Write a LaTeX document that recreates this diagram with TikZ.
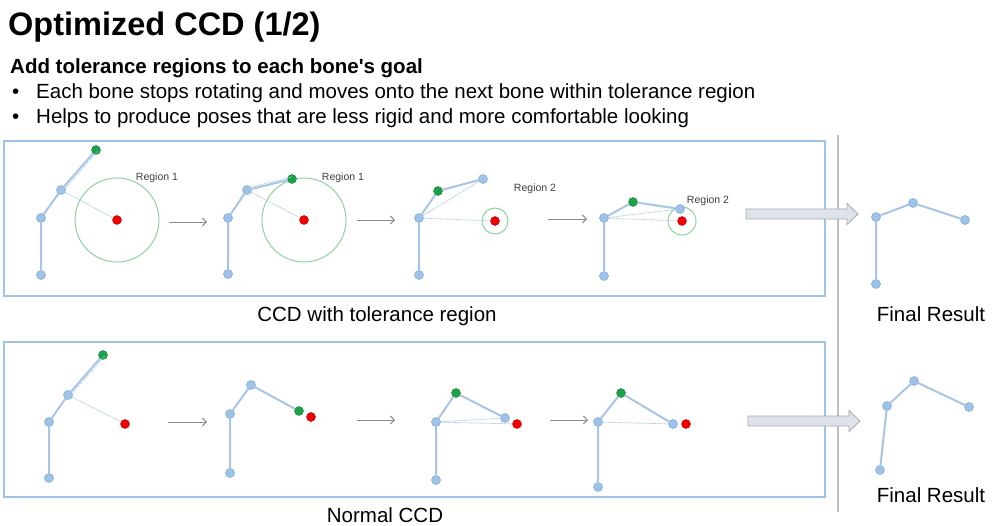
\documentclass[tikz,border=0pt]{standalone}
\usepackage{fontspec}
\setmainfont{Liberation Sans}
\usetikzlibrary{arrows.meta,calc}
\definecolor{bonec}{HTML}{A9C5E6}
\definecolor{jointc}{HTML}{9DC3E6}
\definecolor{jointd}{HTML}{7FA7D6}
\definecolor{effc}{HTML}{1AA34A}
\definecolor{tgtc}{HTML}{F00000}
\definecolor{regc}{HTML}{8ED29F}
\definecolor{boxc}{HTML}{9DC3E6}
\definecolor{arrc}{HTML}{8C8C8C}
\definecolor{fatfill}{HTML}{DEE3EB}
\definecolor{fatdraw}{HTML}{A6A9AE}
\definecolor{sepc}{HTML}{BFBFBF}
\definecolor{labc}{HTML}{404040}
\newcommand{\straightq}{\XeTeXglyph\XeTeXcharglyph"0027\relax}
\tikzset{
  bone/.style={draw=bonec,line width=2pt},
  guide/.style={draw=bonec,line width=0.8pt,dash pattern=on 1pt off 0.8pt},
  joint/.style={circle,fill=jointc,draw=jointd,line width=0.5pt,inner sep=0pt,minimum size=9pt},
  eff/.style={circle,fill=effc,draw=effc!80!black,line width=0.4pt,inner sep=0pt,minimum size=9pt},
  tgt/.style={circle,fill=tgtc,draw=tgtc!80!black,line width=0.4pt,inner sep=0pt,minimum size=9pt},
  region/.style={circle,draw=regc,line width=1pt,inner sep=0pt},
  reglabel/.style={inner sep=0pt,font=\fontsize{10.5}{12}\selectfont,text=labc},
  steparrow/.style={draw=arrc,line width=0.9pt,-{Straight Barb[length=4pt,width=8pt]}},
  fat/.style={fill=fatfill,draw=fatdraw,line width=0.8pt},
  panelbox/.style={draw=boxc,line width=1.2pt},
  txt/.style={inner sep=0pt,anchor=base west,font=\fontsize{20.5}{24}\selectfont},
  captext/.style={inner sep=0pt,anchor=base,font=\fontsize{20.5}{24}\selectfont},
}
\begin{document}
\begin{tikzpicture}[x=1pt,y=-1pt]
\useasboundingbox[fill=white] (0,0) rectangle (992,526);

% texts
\node[inner sep=0pt,anchor=base west,font=\fontsize{32.5}{38}\selectfont\bfseries] (title) at (8,36) {Optimized CCD (1/2)};
\node[txt,font=\fontsize{20.5}{24}\selectfont\bfseries] (sub) at (10,74) {Add tolerance regions to each bone\straightq s goal};
\node[txt] (d1) at (12,99) {•};
\node[txt] (l1) at (36,99) {Each bone stops rotating and moves onto the next bone within tolerance region};
\node[txt] (d2) at (12,124) {•};
\node[txt] (l2) at (36,124) {Helps to produce poses that are less rigid and more comfortable looking};

% frames
\draw[panelbox] (4,141) rectangle (825,296);
\draw[panelbox] (4,342) rectangle (825,497);
\coordinate (s1) at (838,135);
\coordinate (s2) at (838,512);
\draw[draw=sepc,line width=1.5pt] (s1) -- (s2);

\node[captext] (c1) at (377,321) {CCD with tolerance region};
\node[captext] (c2) at (931,321) {Final Result};
\node[captext] (c3) at (385,522) {Normal CCD};
\node[captext] (c4) at (931,502) {Final Result};

% ===== top row =====
% panel 1
\node[region,minimum size=84pt] (a1c) at (117,220) {};
\node[joint] (a1r) at (41,275) {};
\node[joint] (a1j) at (41,218) {};
\node[joint] (a1k) at (61,190) {};
\node[eff] (a1e) at (96,150) {};
\node[tgt] (a1t) at (117,220) {};
\node[reglabel] (a1l) at (157,178) {Region 1};
\draw[guide] (a1k) -- (a1t);
\draw[guide] ($(a1k.center)!2pt!-90:(a1e.center)$) -- ($(a1e.center)!2pt!90:(a1k.center)$);
\draw[bone] (a1r) -- (a1j) -- (a1k) -- (a1e);
\coordinate (p1a) at (169,222); \coordinate (p1b) at (207,222);
\draw[steparrow] (p1a) -- (p1b);

% panel 2
\node[region,minimum size=84pt] (a2c) at (304,220) {};
\node[joint] (a2r) at (228,274) {};
\node[joint] (a2j) at (228,218) {};
\node[joint] (a2k) at (247,190) {};
\node[eff] (a2e) at (292,179) {};
\node[tgt] (a2t) at (304,220) {};
\node[reglabel] (a2l) at (343,178) {Region 1};
\draw[guide] (a2k) -- (a2t);
\draw[guide] ($(a2k.center)!2pt!90:(a2e.center)$) -- ($(a2e.center)!2pt!-90:(a2k.center)$);
\draw[bone] (a2r) -- (a2j) -- (a2k) -- (a2e);
\coordinate (p2a) at (357,220); \coordinate (p2b) at (395,220);
\draw[steparrow] (p2a) -- (p2b);

% panel 3
\node[region,minimum size=26pt] (a3c) at (495,221) {};
\node[joint] (a3r) at (419,275) {};
\node[joint] (a3j) at (419,218) {};
\node[eff] (a3k) at (438,191) {};
\node[joint] (a3e) at (483,179) {};
\node[tgt] (a3t) at (495,221) {};
\node[reglabel] (a3l) at (535,189) {Region 2};
\draw[guide] (a3j) -- (a3t);
\draw[guide] (a3j) -- (a3e);
\draw[bone] (a3r) -- (a3j) -- (a3k) -- (a3e);
\coordinate (p3a) at (548,219); \coordinate (p3b) at (587,219);
\draw[steparrow] (p3a) -- (p3b);

% panel 4
\node[region,minimum size=28pt] (a4c) at (682,221) {};
\node[joint] (a4r) at (604,276) {};
\node[joint] (a4j) at (604,218) {};
\node[eff] (a4k) at (633,202) {};
\node[joint] (a4e) at (680,209) {};
\node[tgt] (a4t) at (682,221) {};
\node[reglabel] (a4l) at (708,201) {Region 2};
\draw[guide] (a4j) -- (a4t);
\draw[guide] (a4j) -- (a4e);
\draw[bone] (a4r) -- (a4j) -- (a4k) -- (a4e);

% fat arrow top
\draw[fat] (746,209) -- (847,209) -- (847,203.5) -- (858,214) -- (847,224.5) -- (847,219) -- (746,219) -- cycle;

% final top
\node[joint] (f1r) at (876,284) {};
\node[joint] (f1j) at (876,217) {};
\node[joint] (f1k) at (913,203) {};
\node[joint] (f1e) at (965,220) {};
\draw[bone] (f1r) -- (f1j) -- (f1k) -- (f1e);

% ===== bottom row =====
% panel 1
\node[joint] (b1r) at (49,478) {};
\node[joint] (b1j) at (49,422) {};
\node[joint] (b1k) at (68,395) {};
\node[eff] (b1e) at (103,355) {};
\node[tgt] (b1t) at (125,424) {};
\draw[guide] (b1k) -- (b1t);
\draw[guide] ($(b1k.center)!2pt!-90:(b1e.center)$) -- ($(b1e.center)!2pt!90:(b1k.center)$);
\draw[bone] (b1r) -- (b1j) -- (b1k) -- (b1e);
\coordinate (q1a) at (168,422); \coordinate (q1b) at (207,422);
\draw[steparrow] (q1a) -- (q1b);

% panel 2
\node[joint] (b2r) at (230,473) {};
\node[joint] (b2j) at (230,414) {};
\node[joint] (b2k) at (251,385) {};
\node[eff] (b2e) at (299,411) {};
\node[tgt] (b2t) at (311,417) {};
\draw[bone] (b2r) -- (b2j) -- (b2k) -- (b2e);
\coordinate (q2a) at (357,420); \coordinate (q2b) at (395,420);
\draw[steparrow] (q2a) -- (q2b);

% panel 3
\node[joint] (b3r) at (436,480) {};
\node[joint] (b3j) at (436,422) {};
\node[eff] (b3k) at (456,393) {};
\node[joint] (b3e) at (505,418) {};
\node[tgt] (b3t) at (517,424) {};
\draw[guide] (b3j) -- (b3t);
\draw[guide] (b3j) -- (b3e);
\draw[bone] (b3r) -- (b3j) -- (b3k) -- (b3e);
\coordinate (q3a) at (550,420); \coordinate (q3b) at (588,420);
\draw[steparrow] (q3a) -- (q3b);

% panel 4
\node[joint] (b4r) at (598,487) {};
\node[joint] (b4j) at (598,422) {};
\node[eff] (b4k) at (621,393) {};
\node[joint] (b4e) at (673,424) {};
\node[tgt] (b4t) at (686,424) {};
\draw[guide] (b4j) -- (b4e);
\draw[bone] (b4r) -- (b4j) -- (b4k) -- (b4e);

% fat arrow bottom
\draw[fat] (748,416) -- (849,416) -- (849,410.5) -- (860,421) -- (849,431.5) -- (849,426) -- (748,426) -- cycle;

% final bottom
\node[joint] (f2r) at (880,470) {};
\node[joint] (f2j) at (887,406) {};
\node[joint] (f2k) at (914,381) {};
\node[joint] (f2e) at (969,407) {};
\draw[bone] (f2r) -- (f2j) -- (f2k) -- (f2e);
\end{tikzpicture}
\end{document}
